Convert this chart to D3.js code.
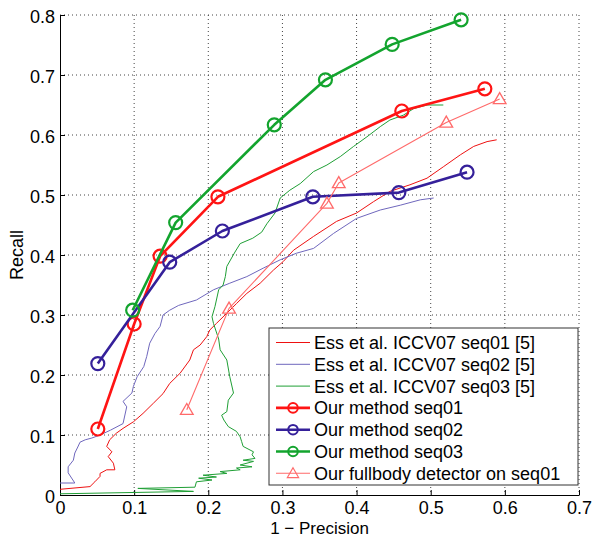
<!DOCTYPE html>
<html>
<head>
<meta charset="utf-8">
<script src="https://cdn.jsdelivr.net/npm/d3@7"></script>
<style>
  body { margin: 0; background: #fff; }
  text { font-family: "Liberation Sans", Arial, Helvetica, sans-serif; }
</style>
</head>
<body>
<div id="chart"></div>
<script>
// Data: [1 - precision, recall]
var essSeq01 = [[0,0.0095],[0.0405,0.014],[0.047,0.022],[0.054,0.031],[0.054,0.036],[0.063,0.042],[0.074,0.042],
  [0.072,0.053],[0.065,0.064],[0.07,0.072],[0.063,0.081],[0.067,0.092],[0.076,0.103],[0.085,0.111],[0.099,0.122],
  [0.112,0.136],[0.126,0.153],[0.139,0.169],[0.148,0.186],[0.162,0.203],[0.175,0.225],[0.18,0.242],[0.189,0.25],
  [0.198,0.264],[0.202,0.275],[0.211,0.286],[0.225,0.303],[0.238,0.319],[0.252,0.336],[0.27,0.353],[0.288,0.375],
  [0.301,0.389],[0.315,0.408],[0.342,0.431],[0.373,0.456],[0.4,0.47],[0.423,0.489],[0.445,0.506],[0.472,0.517],
  [0.495,0.528],[0.517,0.547],[0.54,0.567],[0.558,0.581],[0.576,0.589],[0.589,0.592]];

var essSeq02 = [[0,0.02],[0.02,0.02],[0.011,0.037],[0.011,0.047],[0.018,0.058],[0.02,0.07],[0.024,0.08],[0.027,0.088],
  [0.034,0.092],[0.043,0.095],[0.054,0.1],[0.068,0.108],[0.085,0.119],[0.09,0.147],[0.085,0.156],[0.097,0.17],
  [0.099,0.181],[0.104,0.197],[0.113,0.214],[0.117,0.231],[0.121,0.253],[0.128,0.269],[0.135,0.281],[0.139,0.3],
  [0.148,0.308],[0.16,0.316],[0.184,0.325],[0.207,0.342],[0.229,0.353],[0.252,0.364],[0.274,0.378],[0.297,0.392],
  [0.319,0.403],[0.342,0.411],[0.369,0.436],[0.4,0.461],[0.432,0.475],[0.459,0.483],[0.486,0.492],[0.504,0.495]];

var essSeq03 = [[0,0.002],[0.18,0.006],[0.105,0.011],[0.182,0.013],[0.184,0.022],[0.205,0.025],[0.187,0.028],
  [0.211,0.03],[0.193,0.033],[0.225,0.036],[0.216,0.039],[0.243,0.042],[0.238,0.045],[0.259,0.047],[0.243,0.05],
  [0.261,0.056],[0.247,0.058],[0.263,0.061],[0.259,0.067],[0.261,0.072],[0.247,0.081],[0.245,0.089],[0.243,0.097],
  [0.238,0.106],[0.227,0.114],[0.221,0.125],[0.218,0.133],[0.225,0.139],[0.227,0.158],[0.234,0.17],[0.229,0.197],
  [0.225,0.225],[0.216,0.242],[0.214,0.26],[0.207,0.286],[0.205,0.297],[0.209,0.314],[0.214,0.342],[0.22,0.35],
  [0.223,0.364],[0.225,0.381],[0.236,0.405],[0.243,0.419],[0.26,0.428],[0.272,0.438],[0.279,0.452],[0.29,0.47],
  [0.297,0.495],[0.31,0.508],[0.324,0.519],[0.342,0.539],[0.36,0.55],[0.378,0.564],[0.396,0.581],[0.414,0.597],
  [0.432,0.614],[0.445,0.625],[0.463,0.633],[0.477,0.644],[0.495,0.65],[0.517,0.65]];

var ourSeq01 = [[0.051,0.11],[0.1,0.285],[0.135,0.398],[0.213,0.497],[0.461,0.64],[0.573,0.677]];
var ourSeq02 = [[0.051,0.219],[0.148,0.388],[0.219,0.44],[0.341,0.497],[0.457,0.504],[0.549,0.538]];
var ourSeq03 = [[0.098,0.308],[0.156,0.454],[0.289,0.617],[0.358,0.692],[0.448,0.751],[0.541,0.792]];
var fullbody = [[0.171,0.142],[0.228,0.311],[0.36,0.486],[0.376,0.52],[0.521,0.621],[0.593,0.66]];

var xTicks = [0, 0.1, 0.2, 0.3, 0.4, 0.5, 0.6, 0.7];
var yTicks = [0, 0.1, 0.2, 0.3, 0.4, 0.5, 0.6, 0.7, 0.8];

var series = [
  { name: "Ess et al. ICCV07 seq01 [5]", data: essSeq01, color: "#ee1111", width: 1, marker: null },
  { name: "Ess et al. ICCV07 seq02 [5]", data: essSeq02, color: "#6f67bd", width: 1, marker: null },
  { name: "Ess et al. ICCV07 seq03 [5]", data: essSeq03, color: "#1f9f35", width: 1, marker: null },
  { name: "Our method seq01", data: ourSeq01, color: "#ff1414", width: 2.6, marker: "circle" },
  { name: "Our method seq02", data: ourSeq02, color: "#35209a", width: 2.6, marker: "circle" },
  { name: "Our method seq03", data: ourSeq03, color: "#13a42e", width: 2.6, marker: "circle" },
  { name: "Our fullbody detector on seq01", data: fullbody, color: "#ff6a6a", width: 1.1, marker: "triangle" }
];

var svgWidth = 593;
var svgHeight = 538;
var margin = { top: 15, right: 14, bottom: 43, left: 60 };
var width = svgWidth - margin.left - margin.right;
var height = svgHeight - margin.top - margin.bottom;
var fontSize = "18px";

var svg = d3.select("#chart")
  .append("svg")
  .attr("width", svgWidth)
  .attr("height", svgHeight);

var chartGroup = svg.append("g")
  .attr("transform", `translate(${margin.left}, ${margin.top})`);

var xScale = d3.scaleLinear().domain([0, 0.7]).range([0, width]);
var yScale = d3.scaleLinear().domain([0, 0.8]).range([height, 0]);

// dotted grid
chartGroup.append("g")
  .selectAll("line.gx")
  .data(xTicks.slice(1))
  .enter()
  .append("line")
  .attr("x1", d => xScale(d)).attr("x2", d => xScale(d))
  .attr("y1", 0).attr("y2", height)
  .attr("stroke", "#444")
  .attr("stroke-width", 1)
  .attr("stroke-dasharray", "1,3");

chartGroup.append("g")
  .selectAll("line.gy")
  .data(yTicks.slice(1))
  .enter()
  .append("line")
  .attr("x1", 0).attr("x2", width)
  .attr("y1", d => yScale(d)).attr("y2", d => yScale(d))
  .attr("stroke", "#444")
  .attr("stroke-width", 1)
  .attr("stroke-dasharray", "1,3");

// axes, ticks pointing inward
var bottomAxis = d3.axisBottom(xScale).tickValues(xTicks).tickSizeInner(-5).tickSizeOuter(0)
  .tickFormat(d => d === 0 ? "0" : d3.format(".1f")(d));
var leftAxis = d3.axisLeft(yScale).tickValues(yTicks).tickSizeInner(-5).tickSizeOuter(0)
  .tickFormat(d => d === 0 ? "0" : d3.format(".1f")(d));

var xAxisG = chartGroup.append("g")
  .attr("transform", `translate(0, ${height})`)
  .call(bottomAxis);
var yAxisG = chartGroup.append("g").call(leftAxis);

[xAxisG, yAxisG].forEach(function(g) {
  g.select(".domain").attr("stroke", "#000").attr("stroke-width", 1);
  g.selectAll(".tick line").attr("stroke", "#000");
  g.selectAll(".tick text")
    .attr("fill", "#000")
    .style("font-size", fontSize)
    .style("font-family", "'Liberation Sans', Arial, sans-serif");
});
xAxisG.selectAll(".tick text").attr("dy", 0).attr("y", 19);
yAxisG.selectAll(".tick text").attr("x", -5).attr("dy", "0.4em");

// curves
var line = d3.line().x(d => xScale(d[0])).y(d => yScale(d[1]));
var triangle = d3.symbol().type(d3.symbolTriangle).size(70);

series.forEach(function(s) {
  chartGroup.append("path")
    .datum(s.data)
    .attr("fill", "none")
    .attr("stroke", s.color)
    .attr("stroke-width", s.width)
    .attr("stroke-linejoin", "round")
    .attr("d", line);

  if (s.marker === "circle") {
    chartGroup.selectAll(null)
      .data(s.data)
      .enter()
      .append("circle")
      .attr("cx", d => xScale(d[0]))
      .attr("cy", d => yScale(d[1]))
      .attr("r", 6.5)
      .attr("fill", "none")
      .attr("stroke", s.color)
      .attr("stroke-width", 2.2);
  } else if (s.marker === "triangle") {
    chartGroup.selectAll(null)
      .data(s.data)
      .enter()
      .append("path")
      .attr("transform", d => `translate(${xScale(d[0])}, ${yScale(d[1]) + 1})`)
      .attr("d", triangle)
      .attr("fill", "none")
      .attr("stroke", s.color)
      .attr("stroke-width", 1.3);
  }
});

// axis labels
chartGroup.append("text")
  .attr("transform", "rotate(-90)")
  .attr("y", -37)
  .attr("x", -height / 2)
  .attr("text-anchor", "middle")
  .style("font-size", fontSize)
  .text("Recall");

chartGroup.append("text")
  .attr("x", width / 2)
  .attr("y", height + 39)
  .attr("text-anchor", "middle")
  .style("font-size", "17px")
  .text("1 \u2212 Precision");

// legend
var legend = svg.append("g").attr("transform", "translate(269, 328)");
legend.append("rect")
  .attr("width", 309).attr("height", 157)
  .attr("fill", "#fff")
  .attr("stroke", "#333")
  .attr("stroke-width", 1);

var rows = legend.selectAll("g.row")
  .data(series)
  .enter()
  .append("g")
  .attr("transform", (d, i) => `translate(0, ${14.5 + i * 21.8})`);

rows.append("line")
  .attr("x1", 7).attr("x2", 41)
  .attr("stroke", d => d.color)
  .attr("stroke-width", d => d.width);

rows.filter(d => d.marker === "circle")
  .append("circle")
  .attr("cx", 24).attr("r", 4.8)
  .attr("fill", "none")
  .attr("stroke", d => d.color)
  .attr("stroke-width", 2);

rows.filter(d => d.marker === "triangle")
  .append("path")
  .attr("transform", "translate(24, 1)")
  .attr("d", d3.symbol().type(d3.symbolTriangle).size(55))
  .attr("fill", "none")
  .attr("stroke", d => d.color)
  .attr("stroke-width", 1.2);

rows.append("text")
  .attr("x", 45)
  .attr("dy", "0.36em")
  .style("font-size", fontSize)
  .text(d => d.name);
</script>
</body>
</html>
